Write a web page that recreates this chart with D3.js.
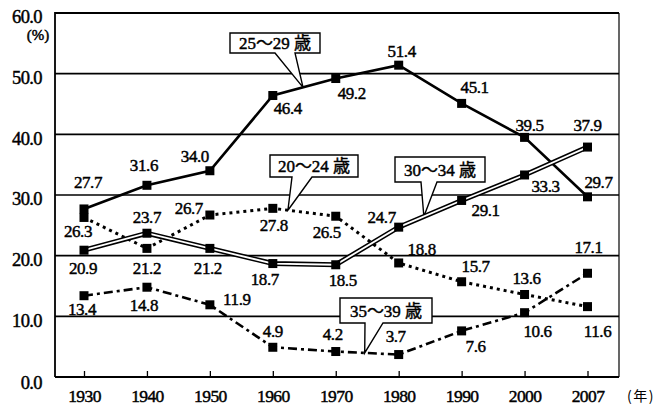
<!DOCTYPE html>
<html>
<head>
<meta charset="utf-8">
<script src="https://cdn.jsdelivr.net/npm/d3@7"></script>
<style>
  html, body { margin: 0; padding: 0; background: #fff; }
  svg { display: block; }
</style>
</head>
<body>
<svg id="chart" width="655" height="407"></svg>
<script>
// Census years (category axis) and the y-axis tick values (%)
const years = ["1930", "1940", "1950", "1960", "1970", "1980", "1990", "2000", "2007"];
const yTicks = [0, 10, 20, 30, 40, 50, 60];

// Share (%) for each age group
const age20to24 = [26.3, 21.2, 26.7, 27.8, 26.5, 18.8, 15.7, 13.6, 11.6];
const age25to29 = [27.7, 31.6, 34.0, 46.4, 49.2, 51.4, 45.1, 39.5, 29.7];
const age30to34 = [20.9, 23.7, 21.2, 18.7, 18.5, 24.7, 29.1, 33.3, 37.9];
const age35to39 = [13.4, 14.8, 11.9, 4.9, 4.2, 3.7, 7.6, 10.6, 17.1];

const seriesNames = ["20～24 歳", "25～29 歳", "30～34 歳", "35～39 歳"];

// Where each value label sits relative to its marker, in pixels [dx, dy]
const labelOffsets20to24 = [[-6, 14], [0, 20], [-21, -7], [1, 17], [-9, 16], [23, -14], [14, -16], [2, -16], [10, 24]];
const labelOffsets25to29 = [[4, -27], [-3, -20], [-15, -15], [15, 13], [16, 15], [3, -14], [13, -16], [5, -12], [11, -15]];
const labelOffsets30to34 = [[-1, 18], [0, -16], [-2, 20], [-8, 15], [7, 15], [-17, -10], [24, 10], [21, 11], [0, -22]];
const labelOffsets35to39 = [[-2, 13], [-3, 18], [27, -6], [0, -16], [-3, -17], [-3, -19], [14, 15], [13, 18], [1, -26]];

(function draw() {
  const svg = d3.select("#chart");
  const SERIF = "'Liberation Serif', 'Times New Roman', 'Noto Sans CJK JP', serif";
  const CJK = "'Noto Sans CJK JP', 'Noto Sans CJK SC', sans-serif";

  const plotLeft = 55, plotRight = 619, plotTop = 13, plotBottom = 377;

  const x = d3.scalePoint().domain(years).range([84, 587.5]);
  const y = d3.scaleLinear().domain([0, 60]).range([plotBottom, plotTop]);

  // Slightly heavier glyphs for the printed look of the numbers
  const heavy = sel => sel.attr("stroke", "#000").attr("stroke-width", 0.45).attr("paint-order", "fill");

  // Horizontal grid lines
  svg.append("g")
    .selectAll("line")
    .data(yTicks.filter(v => v > 0 && v < 60))
    .join("line")
    .attr("x1", plotLeft).attr("x2", plotRight)
    .attr("y1", d => y(d)).attr("y2", d => y(d))
    .attr("stroke", "#000").attr("stroke-width", 1.7);

  // Plot frame
  svg.append("path")
    .attr("d", `M${plotLeft},${plotBottom}V${plotTop}H${plotRight}`)
    .attr("fill", "none").attr("stroke", "#000").attr("stroke-width", 1.8);
  svg.append("line")
    .attr("x1", plotRight).attr("x2", plotRight).attr("y1", plotTop).attr("y2", plotBottom)
    .attr("stroke", "#000").attr("stroke-width", 1.2);
  svg.append("line")
    .attr("x1", plotLeft).attr("x2", plotRight).attr("y1", plotBottom).attr("y2", plotBottom)
    .attr("stroke", "#000").attr("stroke-width", 1.8);

  // Y axis labels
  const yAxis = svg.append("g")
    .attr("transform", `translate(${plotLeft},0)`)
    .call(d3.axisLeft(y).tickValues(yTicks).tickFormat(d3.format(".1f")).tickSize(0).tickPadding(13));
  yAxis.select(".domain").remove();
  yAxis.selectAll("text")
    .attr("font-family", SERIF).attr("font-size", 18.5).attr("letter-spacing", -0.6)
    .attr("fill", "#000")
    .attr("y", d => d === 0 ? 6 : 4)
    .call(heavy);

  svg.append("text")
    .attr("x", 38).attr("y", 35).attr("dy", "0.35em")
    .attr("text-anchor", "middle")
    .attr("font-family", SERIF).attr("font-size", 15)
    .text("(%)")
    .call(heavy);

  // X axis ticks (pointing into the plot) and year labels
  const xAxis = svg.append("g")
    .attr("transform", `translate(0,${plotBottom})`)
    .call(d3.axisBottom(x).tickSize(-6).tickPadding(0));
  xAxis.select(".domain").remove();
  xAxis.selectAll(".tick line").attr("stroke", "#000").attr("stroke-width", 1.3);
  xAxis.selectAll("text")
    .attr("font-family", SERIF).attr("font-size", 17.5).attr("letter-spacing", -0.6)
    .attr("fill", "#000")
    .attr("y", 19).attr("dy", "0.35em")
    .call(heavy);

  svg.append("text")
    .attr("x", 627).attr("y", 396).attr("dy", "0.35em")
    .attr("font-family", CJK).attr("font-size", 14).attr("letter-spacing", 1.5)
    .text("(年)");

  // Series definitions
  const series = [
    { name: seriesNames[0], values: age20to24, offsets: labelOffsets20to24, style: "dotted" },
    { name: seriesNames[1], values: age25to29, offsets: labelOffsets25to29, style: "solid" },
    { name: seriesNames[2], values: age30to34, offsets: labelOffsets30to34, style: "double" },
    { name: seriesNames[3], values: age35to39, offsets: labelOffsets35to39, style: "dashdot" }
  ];

  // Callout boxes naming each series, with a tail pointing to the line
  const callouts = [
    { series: 1, t: 3.48, box: [230, 33, 320, 53], base: [275, 295] },
    { series: 0, t: 3.24, box: [270, 155, 358, 177], base: [292, 312] },
    { series: 2, t: 5.40, box: [395, 157, 485, 182], base: [421, 437] },
    { series: 3, t: 4.46, box: [340, 298, 432, 323], base: [365, 383] }
  ];

  function pointAt(values, t) {
    const i = Math.min(Math.floor(t), values.length - 2);
    const f = t - i;
    const x0 = x(years[i]), x1 = x(years[i + 1]);
    const y0 = y(values[i]), y1 = y(values[i + 1]);
    return [x0 + f * (x1 - x0), y0 + f * (y1 - y0)];
  }

  const calloutG = svg.append("g");
  callouts.forEach(c => {
    const s = series[c.series];
    const [tx, ty] = pointAt(s.values, c.t);
    const [x0, y0, x1, y1] = c.box;
    calloutG.append("path")
      .attr("d", `M${x0},${y0}H${x1}V${y1}H${c.base[1]}L${tx},${ty}L${c.base[0]},${y1}H${x0}Z`)
      .attr("fill", "#fff").attr("stroke", "#000").attr("stroke-width", 1.4)
      .attr("stroke-linejoin", "miter");
    calloutG.append("text")
      .attr("x", (x0 + x1) / 2).attr("y", (y0 + y1) / 2).attr("dy", "0.36em")
      .attr("text-anchor", "middle")
      .attr("font-family", SERIF).attr("font-size", 17)
      .text(s.name)
      .call(heavy);
  });

  const line = d3.line()
    .x((d, i) => x(years[i]))
    .y(d => y(d));

  const linesG = svg.append("g");
  series.forEach(s => {
    const d = line(s.values);
    if (s.style === "solid") {
      linesG.append("path").attr("d", d).attr("fill", "none")
        .attr("stroke", "#000").attr("stroke-width", 2.6);
    } else if (s.style === "dotted") {
      linesG.append("path").attr("d", d).attr("fill", "none")
        .attr("stroke", "#000").attr("stroke-width", 3).attr("stroke-dasharray", "3,4");
    } else if (s.style === "double") {
      linesG.append("path").attr("d", d).attr("fill", "none")
        .attr("stroke", "#000").attr("stroke-width", 5);
      linesG.append("path").attr("d", d).attr("fill", "none")
        .attr("stroke", "#fff").attr("stroke-width", 1.8);
    } else {
      linesG.append("path").attr("d", d).attr("fill", "none")
        .attr("stroke", "#000").attr("stroke-width", 2.6).attr("stroke-dasharray", "9,4,3,4");
    }
  });

  // Square markers
  const markerSize = 9;
  series.forEach(s => {
    linesG.append("g")
      .selectAll("rect")
      .data(s.values)
      .join("rect")
      .attr("x", (d, i) => x(years[i]) - markerSize / 2)
      .attr("y", d => y(d) - markerSize / 2)
      .attr("width", markerSize).attr("height", markerSize)
      .attr("fill", "#000");
  });

  // Value labels
  const labelsG = svg.append("g")
    .attr("font-family", SERIF).attr("font-size", 17).attr("letter-spacing", -0.4)
    .attr("text-anchor", "middle").attr("fill", "#000");
  series.forEach(s => {
    labelsG.append("g")
      .selectAll("text")
      .data(s.values)
      .join("text")
      .attr("x", (d, i) => x(years[i]) + s.offsets[i][0])
      .attr("y", (d, i) => y(d) + s.offsets[i][1])
      .attr("dy", "0.35em")
      .text(d => d3.format(".1f")(d))
      .call(heavy);
  });
})();
</script>
</body>
</html>
